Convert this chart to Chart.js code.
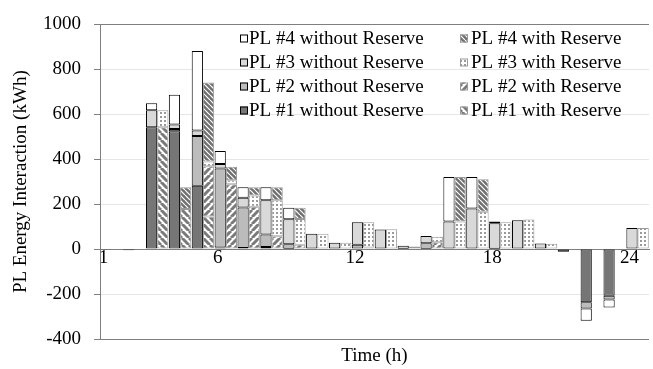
<!DOCTYPE html>
<html>
<head>
<meta charset="utf-8">
<script src="https://cdn.jsdelivr.net/npm/chart.js@4"></script>
<style>
  html, body { margin: 0; padding: 0; background: #fff; }
  #wrap { width: 653px; height: 369px; position: relative; }
</style>
</head>
<body>
<div id="wrap"><canvas id="c" width="653" height="369"></canvas></div>
<script>
const hours = ['1','2','3','4','5','6','7','8','9','10','11','12','13','14','15','16','17','18','19','20','21','22','23','24'];
const shownHourLabels = ['1','6','12','18','24'];

// Without reserve (kWh)
const pl1Without = [-3, -5, 542, 525, 282, 7, 5, 9, 2, 3, 0, 0, 0, 2, 2, 3, 3, 2, 0, 0, -12, -236, -207, 0];
const pl2Without = [0, 0, 0, 10, 221, 352, 180, 56, 20, 0, 0, 19, 0, 0, 24, 0, 0, 0, 0, 0, 0, -28, -17, 0];
const pl3Without = [0, 0, 76, 19, 25, 20, 44, 152, 111, 65, 28, 101, 87, 13, 32, 120, 178, 113, 128, 25, 0, 0, 0, 94];
const pl4Without = [0, 0, 31, 133, 354, 58, 46, 58, 51, 0, 0, 0, 0, 0, 0, 198, 140, 8, 0, 0, 0, -55, -36, 0];

// With reserve (kWh)
const pl1With = [0, 0, 542, 178, 145, 3, 0, 0, 0, 0, 0, 0, 0, 0, 0, 0, 0, 0, 0, 0, 0, -3, 0, 0];
const pl2With = [0, 0, 0, 0, 224, 286, 188, 57, 19, 3, 0, 7, 0, 0, 30, 0, 0, 0, 0, 0, 0, 0, 0, 0];
const pl3With = [0, 0, 76, 0, 21, 17, 51, 160, 115, 65, 28, 113, 88, 12, 25, 123, 166, 119, 132, 24, 0, 0, 0, 94];
const pl4With = [0, 0, 0, 97, 352, 60, 36, 58, 50, 0, 0, 0, 0, 0, 0, 198, 145, 0, 0, 0, 0, 0, 0, 0];

const yTicks = [-400, -200, 0, 200, 400, 600, 800, 1000];

const FONT = '"Liberation Serif", "Times New Roman", serif';

function makePattern(size, draw) {
  const cv = document.createElement('canvas');
  cv.width = size; cv.height = size;
  const g = cv.getContext('2d');
  draw(g, size);
  return g.createPattern(cv, 'repeat');
}
function stripes(dir, bg, fg, width, size) {
  return makePattern(size, (g, s) => {
    g.fillStyle = bg; g.fillRect(0, 0, s, s);
    g.strokeStyle = fg; g.lineWidth = width;
    for (let k = -1; k <= 1; k++) {
      g.beginPath();
      if (dir === 'back') { g.moveTo(k * s, 0); g.lineTo(k * s + s, s); }
      else { g.moveTo(k * s, s); g.lineTo(k * s + s, 0); }
      g.stroke();
    }
  });
}
const pat1 = stripes('back', '#ffffff', '#7a7a7a', 3, 7);
const pat2 = stripes('fwd', '#ffffff', '#7a7a7a', 3, 7);
const pat4 = stripes('back', '#707070', '#ffffff', 1.2, 5);
const pat3 = makePattern(4, (g, s) => {
  g.fillStyle = '#ffffff'; g.fillRect(0, 0, s, s);
  g.fillStyle = '#9a9a9a'; g.fillRect(0, 0, 2, 2);
});

const toBars = arr => arr.map(v => v === 0 ? null : v);

function ds(label, data, fill, border, stack) {
  return {
    label, data: toBars(data), backgroundColor: fill, borderColor: border,
    borderWidth: 1, stack, borderSkipped: false,
    categoryPercentage: 0.98, barPercentage: 1.0
  };
}

const datasets = [
  ds('PL #1 without Reserve', pl1Without, '#767676', '#000000', 'without'),
  ds('PL #2 without Reserve', pl2Without, '#bcbcbc', '#000000', 'without'),
  ds('PL #3 without Reserve', pl3Without, '#d9d9d9', '#000000', 'without'),
  ds('PL #4 without Reserve', pl4Without, '#ffffff', '#000000', 'without'),
  ds('PL #1 with Reserve', pl1With, pat1, '#9a9a9a', 'with'),
  ds('PL #2 with Reserve', pl2With, pat2, '#9a9a9a', 'with'),
  ds('PL #3 with Reserve', pl3With, pat3, '#9a9a9a', 'with'),
  ds('PL #4 with Reserve', pl4With, pat4, '#9a9a9a', 'with')
];

const legendPlugin = {
  id: 'customLegend',
  afterDraw(chart) {
    const ctx = chart.ctx;
    ctx.save();
    ctx.font = '19px ' + FONT;
    ctx.textBaseline = 'middle';
    ctx.fillStyle = '#000';
    const rowsY = [38.5, 62.5, 86.5, 110.5];
    const cols = [{ box: 240, text: 249, off: 0 }, { box: 460, text: 471, off: 4 }];
    for (let r = 0; r < 4; r++) {
      for (let c = 0; c < 2; c++) {
        const d = chart.data.datasets[cols[c].off + (3 - r)];
        const y = rowsY[r];
        ctx.fillStyle = d.backgroundColor;
        ctx.fillRect(cols[c].box, y - 4, 8, 8);
        ctx.strokeStyle = c === 0 ? '#000' : '#9a9a9a';
        ctx.lineWidth = 1;
        ctx.strokeRect(cols[c].box + 0.5, y - 3.5, 7, 7);
        ctx.fillStyle = '#000';
        ctx.fillText(d.label, cols[c].text, y + 1);
      }
    }
    // x title
    const a = chart.chartArea;
    ctx.textAlign = 'center';
    ctx.fillText('Time (h)', (a.left + a.right) / 2, 356);
    ctx.restore();
  }
};

new Chart(document.getElementById('c'), {
  type: 'bar',
  data: { labels: hours, datasets },
  options: {
    responsive: false,
    animation: false,
    devicePixelRatio: 1,
    layout: { padding: { top: 16, bottom: 30, left: 0, right: 4 } },
    plugins: { legend: { display: false }, tooltip: { enabled: false }, title: { display: false } },
    scales: {
      x: {
        type: 'category',
        stacked: true,
        position: { y: 0 },
        grid: { display: false, drawTicks: false },
        border: { display: true, color: '#7f7f7f', width: 1 },
        ticks: {
          autoSkip: false, maxRotation: 0, minRotation: 0,
          labelOffset: -8, padding: -2,
          color: '#000', font: { family: FONT, size: 19 },
          callback: function (val, idx) {
            const l = this.getLabelForValue(val);
            return shownHourLabels.includes(l) ? l : '';
          }
        }
      },
      y: {
        stacked: true,
        min: -400, max: 1000,
        afterBuildTicks: s => { s.ticks = yTicks.map(v => ({ value: v })); },
        afterFit: s => { s.width = 100; },
        grid: {
          color: c => (c.tick && (c.tick.value === 1000 || c.tick.value === -400)) ? '#7f7f7f' : '#e6e6e6',
          tickColor: '#7f7f7f', tickLength: 6, drawTicks: true
        },
        border: { display: true, color: '#7f7f7f', width: 1 },
        ticks: { padding: 13, color: '#000', font: { family: FONT, size: 19 }, callback: v => String(v) },
        title: {
          display: true, text: 'PL Energy Interaction (kWh)', color: '#000',
          font: { family: FONT, size: 19 }, padding: { top: 10, bottom: 0 }
        }
      }
    }
  },
  plugins: [legendPlugin]
});
</script>
</body>
</html>
